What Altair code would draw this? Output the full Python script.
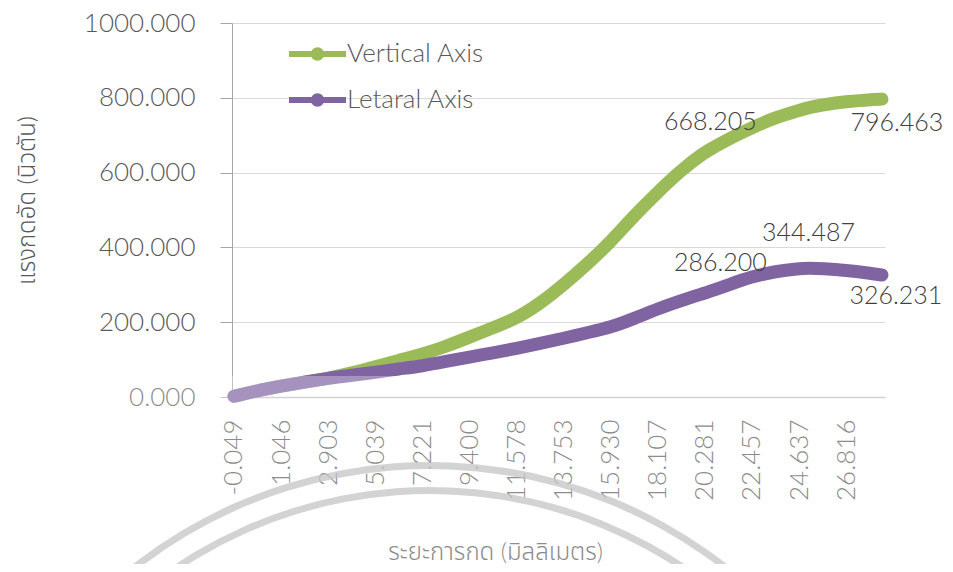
import altair as alt
import pandas as pd

# ---- data ----
x_labels = ["-0.049", "1.046", "2.903", "5.039", "7.221", "9.400", "11.578",
            "13.753", "15.930", "18.107", "20.281", "22.457", "24.637", "26.816"]

# position along the category axis, in units of one label interval
position = [0, 0.5, 1, 1.5, 2, 2.5, 3, 3.5, 4, 4.5, 5, 5.5, 6, 6.5, 7, 7.5, 8,
            8.5, 9, 9.5, 10, 10.2, 10.5, 11, 11.5, 12, 12.2, 12.5, 13, 13.5, 13.76]

vertical = [2, 17, 29, 40, 50, 64, 81, 98, 114, 135, 160, 185, 210, 250, 300,
            355, 415, 485, 548, 607, 655, 668.205, 690, 720, 748, 766, 774,
            781, 790, 795, 796.463]

lateral = [2, 17, 29, 40, 50, 58, 66, 75, 83, 95, 107, 118, 130, 143, 157,
           172, 186, 210, 236, 258, 278, 286.2, 300, 322, 336, 343.5, 344.487,
           343.5, 339, 331, 326.231]

series_names = ["Vertical Axis", "Letaral Axis"]
series_colors = ["#9BBB59", "#8064A2"]

# labelled points: (series, position)
ann_series = ["Vertical Axis", "Vertical Axis", "Letaral Axis", "Letaral Axis", "Letaral Axis"]
ann_pos = [10.2, 13.76, 10.2, 12.2, 13.76]
ann_offsets = [(-4, -25), (15, 24), (6, -27), (0, -35), (14, 21)]

n = len(position)
df = pd.DataFrame({
    "pos": position * 2,
    "value": vertical + lateral,
    "series": [series_names[0]] * n + [series_names[1]] * n,
})

FONT = "Lato, Noto Sans Thai, Noto Sans, DejaVu Sans, sans-serif"
TICK_COL = "#595959"
W = 300

label_array = "[" + ",".join("'%s'" % s for s in x_labels) + "]"

x_enc = alt.X(
    "pos:Q",
    scale=alt.Scale(domain=[-0.042, 13.825], nice=False, zero=False),
    axis=alt.Axis(
        values=list(range(len(x_labels))),
        labelExpr=label_array + "[round(datum.value)]",
        labelAngle=270, labelAlign="right", labelBaseline="middle",
        labelFontSize=26, labelFontWeight=W, labelColor=TICK_COL, labelFont=FONT,
        labelPadding=22,
        ticks=False, grid=False, domainColor="#bfbfbf", domainWidth=1.5,
        labelOverlap=False,
        title="ระยะการกด (มิลลิเมตร)", titleFont=FONT, titleFontSize=24,
        titleFontWeight=W, titleColor=TICK_COL,
        titleX=263, titleY=155, titleBaseline="middle", titleAlign="center",
    ),
)

y_enc = alt.Y(
    "value:Q",
    scale=alt.Scale(domain=[0, 1000], nice=False),
    axis=alt.Axis(
        values=[0, 200, 400, 600, 800, 1000], format=".3f",
        labelFontSize=26, labelFontWeight=W, labelColor=TICK_COL, labelFont=FONT,
        labelPadding=25,
        tickSize=12, tickColor="#a6a6a6", domainColor="#a6a6a6",
        gridColor="#d9d9d9", grid=True,
        title="แรงกดอัด (นิวตัน)", titleFont=FONT, titleFontSize=24,
        titleFontWeight=W, titleColor=TICK_COL, titleAngle=270,
        titleX=-205, titleY=177, titleBaseline="middle", titleAlign="center",
    ),
)

legend_path = ("M-1,0L2.8,0M1.15,0A0.25,0.25,0,1,1,0.65,0"
               "A0.25,0.25,0,1,1,1.15,0Z")

color_enc = alt.Color(
    "series:N",
    scale=alt.Scale(domain=series_names, range=series_colors),
    legend=alt.Legend(
        title=None, orient="none", legendX=54, legendY=13, direction="vertical",
        symbolType=legend_path, symbolSize=900, symbolStrokeWidth=6,
        labelFontSize=26, labelFontWeight=W, labelColor=TICK_COL, labelFont=FONT,
        labelOffset=25, rowPadding=12, padding=0, symbolOpacity=1,
    ),
)

base = alt.Chart(df)

lines = [
    base.transform_filter(alt.datum.series == s).mark_line(
        strokeWidth=13, strokeCap="round", strokeJoin="round", interpolate="basis"
    ).encode(x=x_enc, y=y_enc, color=color_enc)
    for s in series_names
]

labels = []
for s, p, (dx, dy) in zip(ann_series, ann_pos, ann_offsets):
    labels.append(
        base.transform_filter((alt.datum.series == s) & (alt.datum.pos == p))
        .mark_text(dx=dx, dy=dy, fontSize=25, fontWeight=W, font=FONT,
                   color="#404040", align="center", baseline="middle")
        .encode(x=x_enc, y=y_enc, text=alt.Text("value:Q", format=".3f"))
    )

# faint watermark over the lower part of the page
deco = alt.Chart(pd.DataFrame({"d": [0]}))
overlay = deco.mark_rect(color="white", opacity=0.3).encode(
    x=alt.value(-232), x2=alt.value(721), y=alt.value(353), y2=alt.value(549)
)
ring1 = deco.mark_arc(theta=5.4, theta2=7.25, radius=483, radius2=476,
                      color="#c4c4c4", opacity=0.75).encode(
    x=alt.value(198), y=alt.value(922))
ring2 = deco.mark_arc(theta=5.4, theta2=7.25, radius=458, radius2=451,
                      color="#c4c4c4", opacity=0.75).encode(
    x=alt.value(198), y=alt.value(922))

chart = alt.layer(*lines, *labels, overlay, ring1, ring2).properties(
    width=653, height=374,
    autosize=alt.AutoSizeParams(type="none"),
    padding={"left": 224, "top": 15, "right": 60, "bottom": 167},
    background="white",
).configure_view(stroke=None)

chart.save("out.html", embed_options={"renderer": "svg", "actions": False})
